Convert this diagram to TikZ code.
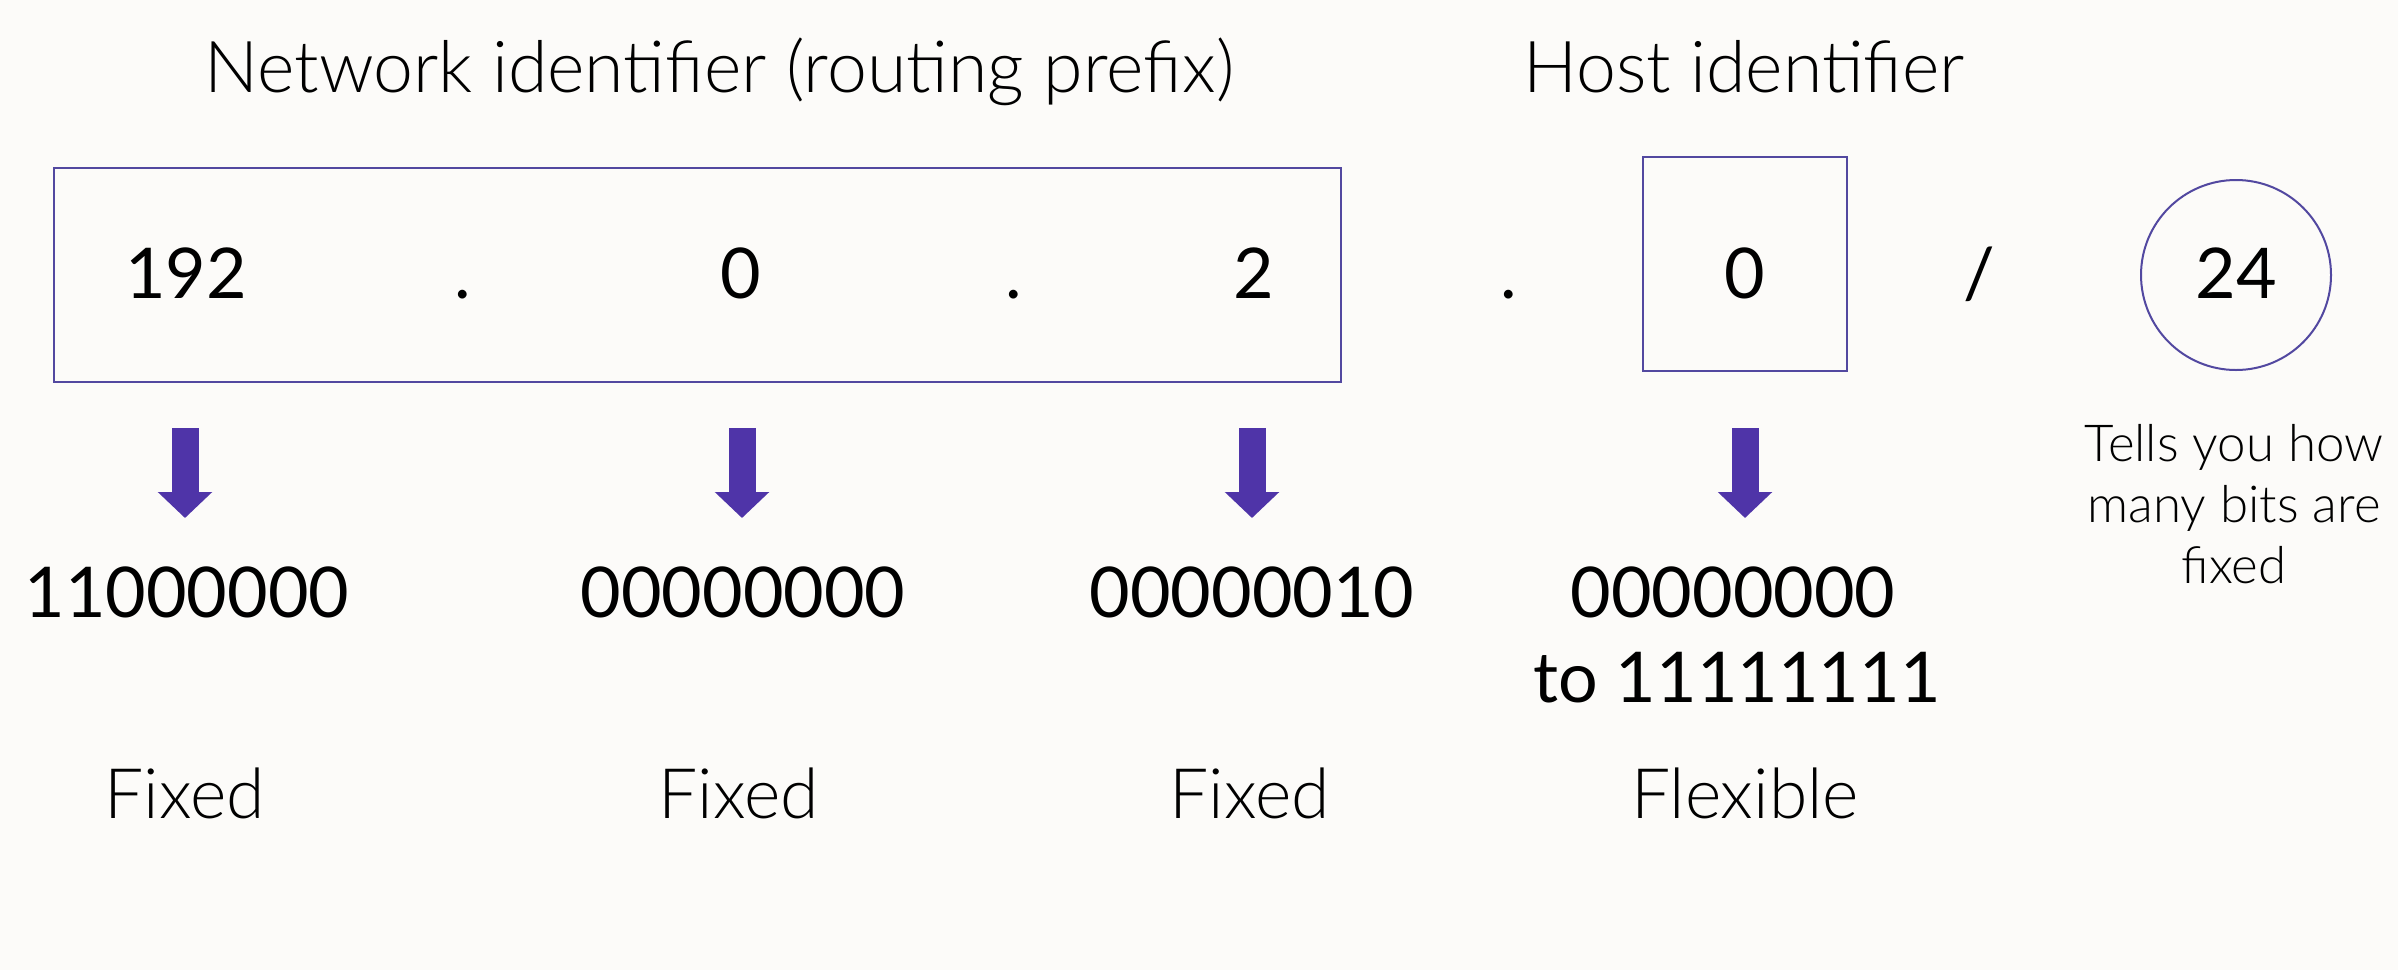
\documentclass[tikz,border=0pt]{standalone}
\usepackage{fontspec}
\setmainfont{Lato}
\newfontfamily\lightfont{Lato Light}
\usetikzlibrary{arrows.meta}
\definecolor{bg}{RGB}{252,251,249}
\definecolor{boxcol}{RGB}{82,72,160}
\definecolor{arrowcol}{RGB}{79,52,168}
\tikzset{
  title/.style={anchor=base,inner sep=0pt,font=\lightfont\fontsize{35.8}{40}\selectfont},
  num/.style={anchor=base,inner sep=0pt,font=\fontsize{35}{40}\selectfont},
  label/.style={anchor=base,inner sep=0pt,font=\lightfont\fontsize{34.8}{40}\selectfont},
  note/.style={anchor=north,inner sep=0pt,align=center,font=\lightfont\fontsize{25.5}{30.5}\selectfont},
  frame/.style={draw=boxcol,line width=1pt},
  blockarrow/.style={draw=arrowcol,line width=13.5pt,-{Triangle[width=26.5pt,length=13pt]}}
}
\begin{document}
\begin{tikzpicture}[x=0.5pt,y=-0.5pt]
\fill[bg] (0,0) rectangle (2398,970);
\useasboundingbox (0,0) rectangle (2398,970);
% titles
\node[title] (tnet) at (719,92) {Network identifier (routing prefix)};
\node[title] (thost) at (1744,92) {Host identifier};
% boxes
\draw[frame] (54,168) rectangle (1341,382);
\draw[frame] (1643,157) rectangle (1847,371);
\node[circle,frame,minimum size=95pt,inner sep=0pt] (circ) at (2236,275) {};
% octets
\node[num] (o1) at (186,298) {192};
\node[num] (d1) at (463,298) {.};
\node[num] (o2) at (741,298) {0};
\node[num] (d2) at (1014,298) {.};
\node[num] (o3) at (1254,298) {2};
\node[num] (d3) at (1509,298) {.};
\node[num] (o4) at (1745,298) {0};
\node[num] (sl) at (1979,298) {/};
\node[num] (pre) at (2236,298) {24};
% arrows
\coordinate (a1s) at (185,428); \coordinate (a1e) at (185,518);
\coordinate (a2s) at (742,428); \coordinate (a2e) at (742,518);
\coordinate (a3s) at (1252,428); \coordinate (a3e) at (1252,518);
\coordinate (a4s) at (1745,428); \coordinate (a4e) at (1745,518);
\draw[blockarrow] (a1s) -- (a1e);
\draw[blockarrow] (a2s) -- (a2e);
\draw[blockarrow] (a3s) -- (a3e);
\draw[blockarrow] (a4s) -- (a4e);
% binary
\node[num] (b1) at (187,617) {11000000};
\node[num] (b2) at (743,617) {00000000};
\node[num] (b3) at (1252,617) {00000010};
\node[num] (b4) at (1733,617) {00000000};
\node[num] (b4b) at (1737,702) {to 11111111};
% labels
\node[label] (f1) at (185,818) {Fixed};
\node[label] (f2) at (739,818) {Fixed};
\node[label] (f3) at (1250,818) {Fixed};
\node[label] (f4) at (1745,818) {Flexible};
\node[note] (tell) at (2234,424) {Tells you how\\many bits are\\fixed};
\end{tikzpicture}
\end{document}
